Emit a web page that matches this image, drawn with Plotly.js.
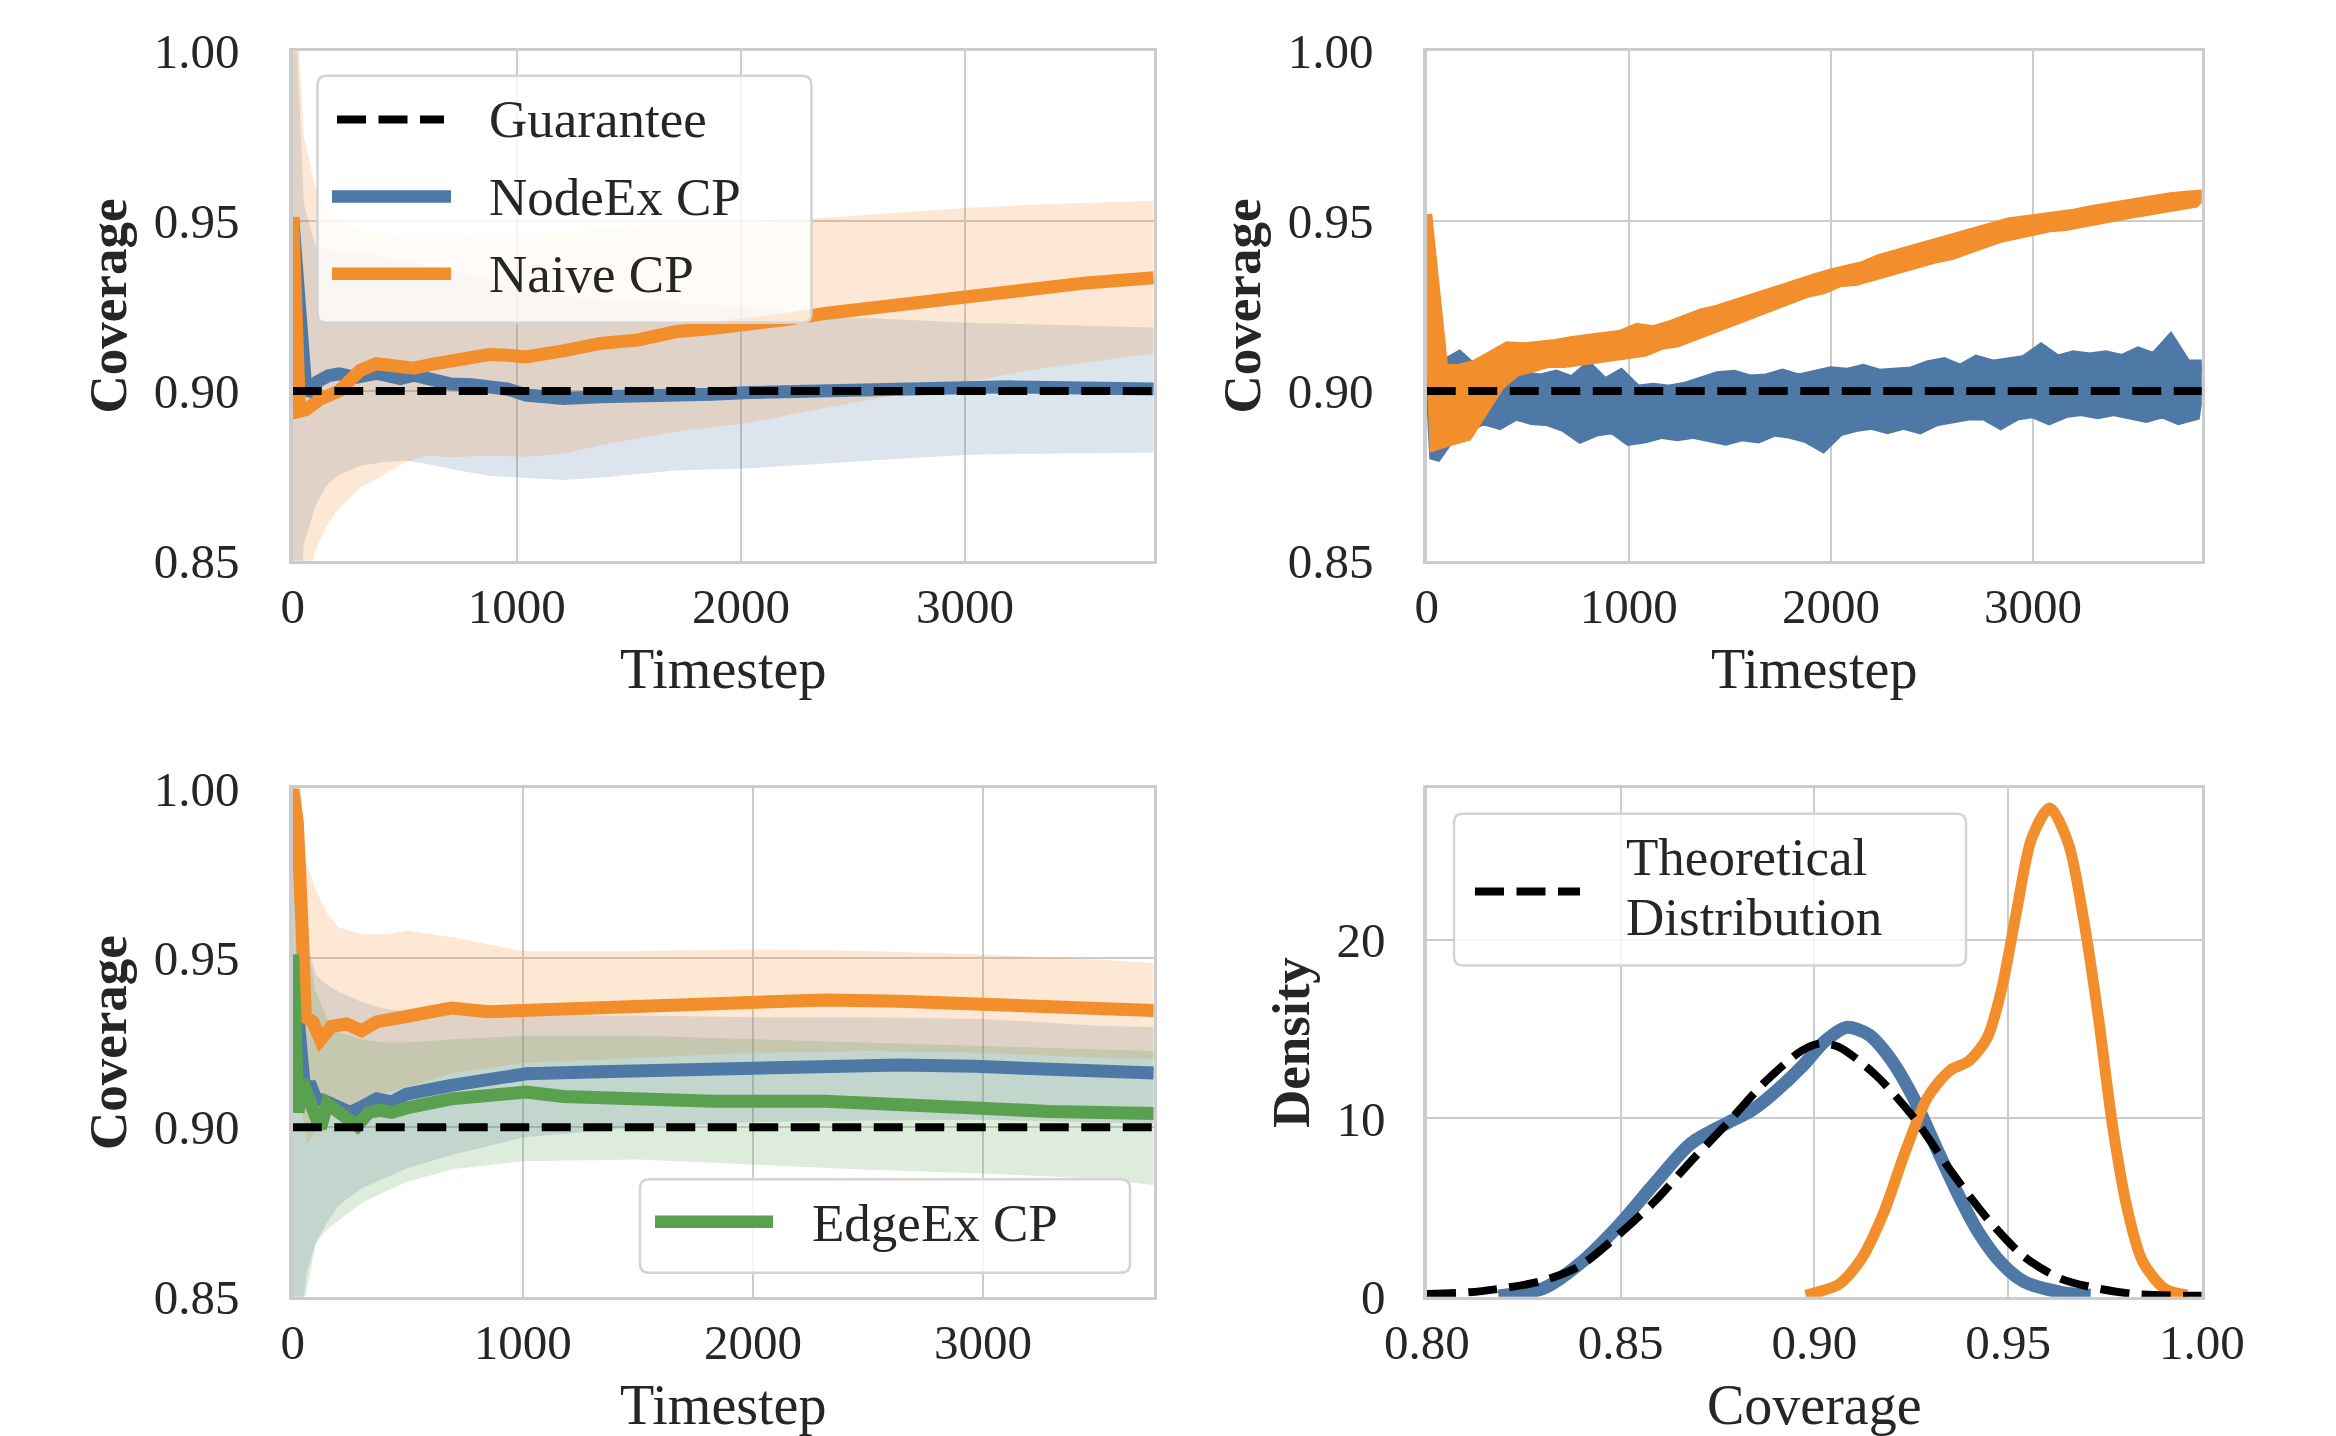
<!DOCTYPE html>
<html><head><meta charset="utf-8">
<script src="https://cdn.plot.ly/plotly-3.0.1.min.js"></script>
<style>html,body{margin:0;padding:0;background:#fff;}#chart{width:2336px;height:1436px;}</style>
</head><body><div id="chart"></div>
<script>
// ---------------- DATA ----------------
const guarantee = 0.9;
const coverageTicks = [0.85, 0.90, 0.95, 1.00];
const timeTicks = [0, 1000, 2000, 3000];
const densityTicks = [0, 10, 20];
const kdeXTicks = [0.80, 0.85, 0.90, 0.95, 1.00];

// Panel A (top-left): mean running coverage with bands
const tA_node = [0, 15, 40, 60, 107, 160, 207, 280, 373, 430, 480, 540, 620, 707, 800, 874, 960, 1040, 1207, 1373, 1540, 1707, 1870, 2040, 2200, 2374, 2540, 2707, 2870, 3040, 3200, 3374, 3540, 3700, 3842];
const nodeA = [0.951, 0.935, 0.905, 0.899, 0.9026, 0.9045, 0.9050, 0.9040, 0.9052, 0.9044, 0.9036, 0.9046, 0.9030, 0.9020, 0.9018, 0.9016, 0.9005, 0.8988, 0.8978, 0.8983, 0.8983, 0.8989, 0.8990, 0.8995, 0.8998, 0.9005, 0.9006, 0.9008, 0.9010, 0.9011, 0.9012, 0.9010, 0.9009, 0.9008, 0.9006];
const tA_naive = [0, 15, 30, 60, 120, 207, 300, 373, 450, 540, 620, 707, 800, 874, 960, 1040, 1207, 1373, 1540, 1707, 1870, 2040, 2200, 2374, 2540, 2707, 2870, 3040, 3200, 3374, 3540, 3700, 3842];
const naiveA = [0.9512, 0.930, 0.894, 0.8945, 0.8975, 0.9000, 0.9060, 0.9080, 0.9072, 0.9067, 0.9078, 0.9087, 0.9100, 0.9107, 0.9105, 0.9100, 0.9118, 0.9140, 0.9150, 0.9174, 0.9184, 0.9194, 0.9210, 0.9228, 0.9242, 0.9255, 0.9268, 0.9281, 0.9295, 0.9308, 0.9318, 0.9326, 0.9333];
const tA_band = [0, 20, 50, 100, 150, 200, 300, 400, 500, 600, 707, 874, 1040, 1207, 1373, 1540, 1707, 2040, 2374, 2707, 3040, 3374, 3842];
const nodeA_hi = [1.02, 1.00, 0.955, 0.943, 0.9415, 0.941, 0.9408, 0.9395, 0.938, 0.937, 0.9355, 0.933, 0.929, 0.928, 0.927, 0.9265, 0.926, 0.9246, 0.922, 0.921, 0.920, 0.9195, 0.9187];
const nodeA_lo = [0.78, 0.83, 0.855, 0.866, 0.872, 0.875, 0.878, 0.879, 0.8795, 0.8785, 0.877, 0.875, 0.8745, 0.8738, 0.8745, 0.8755, 0.8766, 0.8772, 0.8785, 0.880, 0.8813, 0.8816, 0.8819];
const naiveA_hi = [1.05, 1.01, 0.975, 0.960, 0.953, 0.950, 0.947, 0.9465, 0.946, 0.946, 0.946, 0.9465, 0.9465, 0.947, 0.9475, 0.948, 0.9485, 0.9490, 0.951, 0.9525, 0.954, 0.955, 0.956];
const naiveA_lo = [0.70, 0.78, 0.835, 0.853, 0.860, 0.865, 0.8715, 0.875, 0.879, 0.881, 0.8805, 0.881, 0.8806, 0.8815, 0.884, 0.886, 0.888, 0.8906, 0.895, 0.899, 0.903, 0.907, 0.911];

// Panel B (top-right): per-step coverage, read as upper / lower excursions of the noisy series
const tHiB = [0,80,160,240,320,400,480,560,640,720,800,880,960,1040,1120,1200,1280,1360,1440,1520,1600,1680,1760,1840,1920,2000,2080,2160,2240,2320,2400,2480,2560,2640,2720,2800,2880,2960,3040,3120,3200,3280,3360,3440,3520,3600,3680,3760,3840];
const tLoB = [40,120,200,280,360,440,520,600,680,760,840,920,1000,1080,1160,1240,1320,1400,1480,1560,1640,1720,1800,1880,1960,2040,2120,2200,2280,2360,2440,2520,2600,2680,2760,2840,2920,3000,3080,3160,3240,3320,3400,3480,3560,3640,3720,3800];
const nodeHiB = [0.925, 0.9076, 0.9103, 0.9060, 0.9056, 0.9060, 0.9042, 0.9035, 0.9046, 0.9029, 0.9070, 0.9022, 0.9049, 0.9002, 0.9008, 0.9002, 0.9011, 0.9029, 0.9042, 0.9046, 0.9032, 0.9035, 0.9049, 0.9035, 0.9049, 0.9056, 0.9052, 0.9063, 0.9049, 0.9056, 0.9056, 0.9074, 0.9083, 0.9063, 0.9090, 0.9076, 0.9083, 0.9090, 0.9124, 0.9090, 0.9103, 0.9097, 0.9103, 0.9092, 0.9114, 0.9097, 0.9150, 0.9076, 0.9076];
const nodeLoB = [0.8800, 0.8868, 0.8895, 0.8916, 0.8902, 0.8929, 0.8916, 0.8912, 0.8895, 0.8862, 0.8882, 0.8889, 0.8855, 0.8862, 0.8875, 0.8868, 0.8875, 0.8865, 0.8855, 0.8868, 0.8862, 0.8882, 0.8875, 0.8862, 0.8835, 0.8882, 0.8895, 0.8902, 0.8889, 0.8902, 0.8889, 0.8912, 0.8922, 0.8929, 0.8929, 0.8902, 0.8929, 0.8936, 0.8916, 0.8936, 0.8942, 0.8933, 0.8942, 0.8929, 0.8922, 0.8936, 0.8916, 0.8929];
const naiveHiB = [0.952, 0.9063, 0.9063, 0.9076, 0.9103, 0.9130, 0.9127, 0.9130, 0.9137, 0.9146, 0.9151, 0.9157, 0.9164, 0.9184, 0.9177, 0.9191, 0.9211, 0.9227, 0.9238, 0.9254, 0.9272, 0.9290, 0.9303, 0.9317, 0.9330, 0.9344, 0.9353, 0.9367, 0.9387, 0.9401, 0.9417, 0.9428, 0.9441, 0.9452, 0.9468, 0.9484, 0.9495, 0.9501, 0.9506, 0.9512, 0.9520, 0.9530, 0.9539, 0.9550, 0.9557, 0.9563, 0.9569, 0.9573, 0.9577];
const naiveLoB = [0.8840, 0.8855, 0.8868, 0.8949, 0.9017, 0.9057, 0.9070, 0.9084, 0.9084, 0.9090, 0.9097, 0.9103, 0.9110, 0.9117, 0.9137, 0.9144, 0.9164, 0.9180, 0.9205, 0.9218, 0.9234, 0.9256, 0.9272, 0.9290, 0.9300, 0.9321, 0.9325, 0.9338, 0.9355, 0.9365, 0.9379, 0.9392, 0.9402, 0.9415, 0.9436, 0.9452, 0.9463, 0.9474, 0.9483, 0.9487, 0.9495, 0.9503, 0.9514, 0.9523, 0.9533, 0.9541, 0.9549, 0.9555];

// Panel C (bottom-left): mean running coverage with bands, three methods
const tC_naive = [0, 20, 40, 55, 88, 120, 169, 234, 299, 364, 494, 689, 851, 1014, 1176, 1501, 1826, 2001, 2313, 2638, 2963, 3288, 3613, 3742];
const naiveC = [1.0, 0.99, 0.96, 0.9325, 0.9311, 0.9258, 0.9298, 0.9305, 0.9285, 0.9311, 0.9327, 0.9352, 0.9341, 0.9345, 0.9352, 0.9358, 0.9362, 0.9372, 0.9376, 0.9372, 0.9365, 0.9362, 0.9354, 0.9345];
const tC_node = [0, 20, 50, 80, 100, 140, 200, 250, 300, 364, 430, 494, 689, 851, 1014, 1338, 1663, 2001, 2313, 2638, 2963, 3288, 3742];
const nodeC = [0.95, 0.93, 0.912, 0.912, 0.9085, 0.9077, 0.9057, 0.9044, 0.906, 0.9084, 0.9075, 0.9098, 0.9124, 0.9144, 0.9158, 0.9164, 0.9171, 0.9178, 0.9184, 0.9184, 0.9180, 0.9171, 0.9160];
const tC_edge = [0, 12, 23, 40, 60, 90, 120, 150, 200, 234, 280, 330, 380, 430, 494, 689, 1014, 1176, 1501, 1826, 2313, 2638, 2963, 3288, 3742];
const edgeC = [0.951, 0.93, 0.9044, 0.9138, 0.910, 0.9071, 0.8997, 0.907, 0.9044, 0.903, 0.9004, 0.9044, 0.905, 0.9044, 0.9057, 0.9084, 0.9104, 0.9091, 0.9084, 0.9077, 0.9077, 0.9071, 0.9057, 0.9047, 0.9041];
const tC_band = [0, 20, 40, 60, 100, 150, 200, 300, 400, 500, 700, 1000, 1500, 2000, 2500, 3000, 3500, 3742];
const naiveC_hi = [1.05, 1.0, 0.986, 0.978, 0.970, 0.963, 0.959, 0.957, 0.957, 0.958, 0.956, 0.952, 0.952, 0.9525, 0.952, 0.951, 0.9495, 0.9485];
const naiveC_lo = [0.99, 0.93, 0.905, 0.895, 0.899, 0.903, 0.905, 0.908, 0.910, 0.912, 0.916, 0.919, 0.9205, 0.922, 0.9225, 0.922, 0.9205, 0.920];
const nodeC_hi = [1.05, 1.0, 0.98, 0.955, 0.945, 0.942, 0.940, 0.937, 0.935, 0.934, 0.933, 0.933, 0.933, 0.9325, 0.9325, 0.932, 0.930, 0.9295];
const nodeC_lo = [0.80, 0.83, 0.845, 0.857, 0.866, 0.872, 0.877, 0.882, 0.885, 0.888, 0.892, 0.897, 0.900, 0.9015, 0.902, 0.9022, 0.9015, 0.901];
const edgeC_hi = [1.05, 1.02, 0.995, 0.955, 0.940, 0.932, 0.928, 0.926, 0.925, 0.925, 0.926, 0.927, 0.927, 0.926, 0.925, 0.924, 0.923, 0.9225];
const edgeC_lo = [0.78, 0.82, 0.845, 0.852, 0.8656, 0.870, 0.8725, 0.8777, 0.881, 0.884, 0.8877, 0.890, 0.8905, 0.889, 0.8875, 0.8864, 0.8848, 0.883];

// Panel D (bottom-right): density of coverage
const kdeX_node = [0.8185, 0.8300, 0.8395, 0.8491, 0.8586, 0.8682, 0.8777, 0.8835, 0.8873, 0.8968, 0.9026, 0.9083, 0.9140, 0.9198, 0.9255, 0.9312, 0.9370, 0.9427, 0.9484, 0.9542, 0.9637, 0.9713];
const kdeY_node = [0.05, 0.46, 1.86, 3.9, 6.3, 8.6, 9.76, 10.4, 11.0, 12.9, 14.3, 15.1, 14.7, 13.3, 11.2, 8.5, 5.8, 3.5, 1.86, 0.84, 0.25, 0.08];
const kdeX_naive = [0.8978, 0.9007, 0.9064, 0.9121, 0.9179, 0.9236, 0.9293, 0.9351, 0.9398, 0.9446, 0.9484, 0.9522, 0.9561, 0.9608, 0.9656, 0.9694, 0.9733, 0.9771, 0.9809, 0.9847, 0.9904, 0.9962];
const kdeY_naive = [0.08, 0.25, 0.7, 2.1, 4.7, 8.2, 11.2, 12.7, 13.2, 14.5, 17.3, 21.6, 25.7, 27.4, 25.4, 21.3, 15.7, 9.4, 4.8, 2.0, 0.46, 0.1];
const kdeX_theory = [0.800, 0.8109, 0.8204, 0.8300, 0.8395, 0.8491, 0.8586, 0.8682, 0.8777, 0.8873, 0.8968, 0.9016, 0.9064, 0.9160, 0.9255, 0.9351, 0.9446, 0.9542, 0.9637, 0.9733, 0.9828, 1.000];
const kdeY_theory = [0.15, 0.25, 0.5, 0.9, 1.73, 3.4, 5.3, 7.6, 9.76, 12.05, 13.8, 14.2, 14.0, 12.4, 10.1, 7.1, 4.4, 2.24, 1.0, 0.46, 0.15, 0.05];

// ---------------- STYLE ----------------
const W = 2336, H = 1436;
const FONT = '"Liberation Serif", "Times New Roman", Times, serif';
const TXT = '#262626';
const BLUE = '#4e79a7', ORANGE = '#f28e2b', GREEN = '#59a14f';
const BLUE_F = 'rgba(78,121,167,0.2)', ORANGE_F = 'rgba(242,142,43,0.2)', GREEN_F = 'rgba(89,161,79,0.2)';
const LW = 13, DASH_W = 8, DASH = '29px,12.5px';
const px = x => x / W, py = y => 1 - y / H;
const FR = 3.5, fh = FR / 2;
const colL = [px(291 + fh), px(1155.5 - fh)], colR = [px(1425 + fh), px(2203.5 - fh)];
const rowT = [py(562.5 - fh), py(49.5 + fh)], rowB = [py(1298.5 - fh), py(786.7 + fh)];

function band(t, lo, hi, color, xa, ya) {
  return {type: 'scatter', mode: 'lines', x: t.concat(t.slice().reverse()), y: hi.concat(lo.slice().reverse()),
    fill: 'toself', fillcolor: color, line: {width: 0, color: color}, hoverinfo: 'skip', showlegend: false, xaxis: xa, yaxis: ya};
}
// noisy per-step series: the extent of its excursions drawn as a solid stroked ribbon
function noisy(tHi, hi, tLo, lo, color, xa, ya, name) {
  return {type: 'scatter', mode: 'lines', name, x: tHi.concat(tLo.slice().reverse(), [tHi[0]]),
    y: hi.concat(lo.slice().reverse(), [hi[0]]),
    fill: 'toself', fillcolor: color, line: {width: 11, color: color}, showlegend: false, xaxis: xa, yaxis: ya};
}
function line(x, y, color, xa, ya, extra) {
  return Object.assign({type: 'scatter', mode: 'lines', x: x, y: y, line: {color: color, width: LW}, showlegend: false, xaxis: xa, yaxis: ya}, extra || {});
}
function guar(xEnd, xa, ya) {
  return {type: 'scatter', mode: 'lines', x: [0, xEnd], y: [guarantee, guarantee], line: {color: '#000', width: DASH_W, dash: DASH}, showlegend: false, xaxis: xa, yaxis: ya};
}

const traces = [];
// A
traces.push(band(tA_band, nodeA_lo, nodeA_hi, BLUE_F, 'x', 'y'));
traces.push(band(tA_band, naiveA_lo, naiveA_hi, ORANGE_F, 'x', 'y'));
traces.push(line(tA_node, nodeA, BLUE, 'x', 'y', {name: 'NodeEx CP'}));
traces.push(line(tA_naive, naiveA, ORANGE, 'x', 'y', {name: 'Naive CP'}));
traces.push(guar(3842, 'x', 'y'));
// B
traces.push(noisy(tHiB, nodeHiB, tLoB, nodeLoB, BLUE, 'x2', 'y2', 'NodeEx CP'));
traces.push(noisy(tHiB, naiveHiB, tLoB, naiveLoB, ORANGE, 'x2', 'y2', 'Naive CP'));
traces.push(guar(3840, 'x2', 'y2'));
// C
traces.push(band(tC_band, nodeC_lo, nodeC_hi, BLUE_F, 'x3', 'y3'));
traces.push(band(tC_band, naiveC_lo, naiveC_hi, ORANGE_F, 'x3', 'y3'));
traces.push(band(tC_band, edgeC_lo, edgeC_hi, GREEN_F, 'x3', 'y3'));
traces.push(line(tC_node, nodeC, BLUE, 'x3', 'y3', {name: 'NodeEx CP'}));
traces.push(line(tC_naive, naiveC, ORANGE, 'x3', 'y3', {name: 'Naive CP'}));
traces.push(line(tC_edge, edgeC, GREEN, 'x3', 'y3', {name: 'EdgeEx CP'}));
traces.push(guar(3742, 'x3', 'y3'));
// D
traces.push(line(kdeX_node, kdeY_node, BLUE, 'x4', 'y4', {name: 'NodeEx CP', line: {color: BLUE, width: 13, shape: 'spline', smoothing: 0.8}}));
traces.push(line(kdeX_naive, kdeY_naive, ORANGE, 'x4', 'y4', {name: 'Naive CP', line: {color: ORANGE, width: 11, shape: 'spline', smoothing: 0.8}}));
traces.push(line(kdeX_theory, kdeY_theory, '#000', 'x4', 'y4', {name: 'Theoretical Distribution', line: {color: '#000', width: DASH_W, dash: DASH, shape: 'spline', smoothing: 0.8}}));

function xAx(domain, range, tickvals, anchor, title, fmt) {
  return {domain, range, tickvals, anchor, tickformat: fmt || '',
    showline: true, mirror: true, linecolor: '#cccccc', linewidth: FR,
    showgrid: true, gridcolor: '#cccccc', gridwidth: 2, zeroline: false,
    ticks: '', ticklabelstandoff: 0,
    tickfont: {family: FONT, size: 49, color: TXT},
    title: {text: title, font: {family: FONT, size: 56, color: TXT}, standoff: 17},
    fixedrange: true};
}
function yAx(domain, range, tickvals, anchor, title, fmt, so, tso) {
  return {domain, range, tickvals, anchor, tickformat: fmt || '',
    showline: true, mirror: true, linecolor: '#cccccc', linewidth: FR,
    showgrid: true, gridcolor: '#cccccc', gridwidth: 2, zeroline: false,
    ticks: '', ticklabelstandoff: so,
    tickfont: {family: FONT, size: 49, color: TXT},
    title: {text: title, font: {family: FONT, size: 53, color: TXT, weight: 'bold'}, standoff: tso},
    fixedrange: true};
}

function roundRect(x0, y0, x1, y1, r) {
  const X = v => (v / W).toFixed(5), Y = v => (1 - v / H).toFixed(5);
  return `M${X(x0 + r)},${Y(y0)} L${X(x1 - r)},${Y(y0)} Q${X(x1)},${Y(y0)} ${X(x1)},${Y(y0 + r)} ` +
    `L${X(x1)},${Y(y1 - r)} Q${X(x1)},${Y(y1)} ${X(x1 - r)},${Y(y1)} L${X(x0 + r)},${Y(y1)} ` +
    `Q${X(x0)},${Y(y1)} ${X(x0)},${Y(y1 - r)} L${X(x0)},${Y(y0 + r)} Q${X(x0)},${Y(y0)} ${X(x0 + r)},${Y(y0)} Z`;
}
function legBox(x0, y0, x1, y1) {
  return {type: 'path', xref: 'paper', yref: 'paper', path: roundRect(x0, y0, x1, y1, 9),
    fillcolor: 'rgba(255,255,255,0.8)', line: {color: '#d4d4d4', width: 2.5}, layer: 'above'};
}
function legLine(x0, x1, y, color, width, dash) {
  return {type: 'line', xref: 'paper', yref: 'paper', x0: px(x0), x1: px(x1), y0: py(y), y1: py(y),
    line: {color, width, dash: dash || 'solid'}, layer: 'above'};
}
function legText(x, y, text) {
  return {xref: 'paper', yref: 'paper', x: px(x), y: py(y), xanchor: 'left', yanchor: 'middle', showarrow: false,
    text, font: {family: FONT, size: 53, color: TXT}};
}

const shapes = [
  legBox(317.5, 75.7, 811.4, 322.7),
  legLine(337, 444, 119.5, '#000', DASH_W, DASH),
  legLine(332, 451, 196.5, BLUE, 12.5),
  legLine(332, 451, 273.7, ORANGE, 12.5),
  legBox(640, 1179.3, 1130, 1272.7),
  legLine(655, 773, 1221.7, GREEN, 12.5),
  legBox(1454, 813.7, 1966, 965.5),
  legLine(1475, 1580, 891.5, '#000', DASH_W, DASH)
];
const annotations = [
  legText(487, 119.5, 'Guarantee'),
  legText(487, 197, 'NodeEx CP'),
  legText(487, 274, 'Naive CP'),
  legText(810, 1223, 'EdgeEx CP'),
  legText(1624, 857, 'Theoretical'),
  legText(1624, 917, 'Distribution')
];

const layout = {
  width: W, height: H, autosize: false,
  margin: {l: 0, r: 0, t: 0, b: 0, pad: 0},
  paper_bgcolor: '#ffffff', plot_bgcolor: '#ffffff',
  font: {family: FONT, color: TXT},
  showlegend: false,
  xaxis: xAx(colL, [0, 3842], timeTicks, 'y', 'Timestep'),
  yaxis: yAx(rowT, [0.85, 1.0], coverageTicks, 'x', 'Coverage', '.2f', 40, 11),
  xaxis2: xAx(colR, [0, 3835], timeTicks, 'y2', 'Timestep'),
  yaxis2: yAx(rowT, [0.85, 1.0], coverageTicks, 'x2', 'Coverage', '.2f', 40, 11),
  xaxis3: xAx(colL, [0, 3742], timeTicks, 'y3', 'Timestep'),
  yaxis3: yAx(rowB, [0.85, 1.0], coverageTicks, 'x3', 'Coverage', '.2f', 40, 11),
  xaxis4: xAx(colR, [0.8, 1.0], kdeXTicks, 'y4', 'Coverage', '.2f'),
  yaxis4: yAx(rowB, [0, 28.5], densityTicks, 'x4', 'Density', '', 28, 11),
  shapes, annotations
};

Plotly.newPlot('chart', traces, layout, {staticPlot: true, displayModeBar: false});
</script></body></html>
